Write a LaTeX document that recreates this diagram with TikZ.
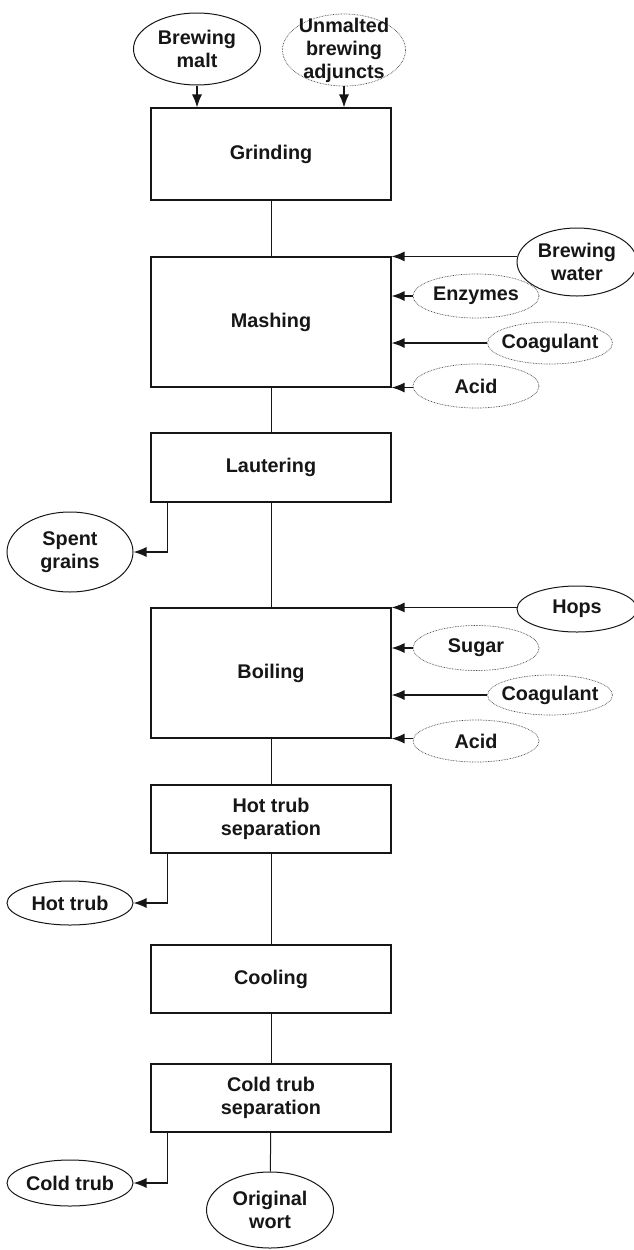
\documentclass[tikz,border=0pt]{standalone}
\usepackage{fontspec}
\setmainfont{Liberation Sans}
\usetikzlibrary{shapes.geometric,arrows.meta}
\definecolor{ink}{HTML}{161616}
\begin{document}
\begin{tikzpicture}[x=1pt,y=-1pt,
  font=\fontsize{19.8}{23}\selectfont\bfseries,
  proc/.style={draw=ink,line width=1.1pt,minimum width=240pt,inner sep=0pt,text=ink,align=center},
  solidell/.style={draw=ink,line width=1pt,ellipse,inner sep=0pt},
  dotell/.style={draw=ink!80,line width=0.7pt,dash pattern=on 0.7pt off 0.9pt,ellipse,inner sep=0pt},
  lbl/.style={text=ink,align=center,inner sep=0pt},
  link/.style={draw=ink,line width=1pt},
  arr/.style={draw=ink,line width=1.3pt,-{Latex[length=13pt,width=10pt]}}]
\useasboundingbox (0,0) rectangle (634,1250);
% process boxes
\node[proc,minimum height=92pt]  (grind) at (271,154) {Grinding};
\node[proc,minimum height=130pt] (mash)  at (271,322) {Mashing};
\node[proc,minimum height=69pt]  (laut)  at (271,467.5) {Lautering};
\node[proc,minimum height=130pt] (boil)  at (271,673) {Boiling};
\node[proc,minimum height=68pt]  (hts)   at (271,819) {Hot trub\\separation};
\node[proc,minimum height=68pt]  (cool)  at (271,979) {Cooling};
\node[proc,minimum height=68pt]  (cts)   at (271,1098) {Cold trub\\separation};
% inputs / outputs
\node[solidell,minimum width=127pt,minimum height=72pt,label={[lbl]center:Brewing\\malt}] (malt) at (197,49) {};
\node[dotell,minimum width=123pt,minimum height=72pt,label={[lbl]center:Unmalted\\brewing\\adjuncts}] (unm) at (344,50) {};
\node[solidell,minimum width=120pt,minimum height=68pt,label={[lbl]center:Brewing\\water}] (water) at (577,262) {};
\node[dotell,minimum width=126pt,minimum height=44pt,label={[lbl]center:Enzymes}] (enz) at (476,296) {};
\node[dotell,minimum width=125pt,minimum height=42pt,label={[lbl]center:Coagulant}] (coag1) at (550,343) {};
\node[dotell,minimum width=126pt,minimum height=44pt,label={[lbl]center:Acid}] (acid1) at (476,386) {};
\node[solidell,minimum width=126pt,minimum height=80pt,label={[lbl]center:Spent\\grains}] (spent) at (70,552) {};
\node[solidell,minimum width=120pt,minimum height=46pt,label={[lbl]center:Hops}] (hops) at (577,609) {};
\node[dotell,minimum width=126pt,minimum height=45pt,label={[lbl]center:Sugar}] (sugar) at (476,648) {};
\node[dotell,minimum width=125pt,minimum height=40pt,label={[lbl]center:Coagulant}] (coag2) at (550,695) {};
\node[dotell,minimum width=126pt,minimum height=42pt,label={[lbl]center:Acid}] (acid2) at (476,741) {};
\node[solidell,minimum width=126pt,minimum height=44pt,label={[lbl]center:Hot trub}] (hot) at (70,903) {};
\node[solidell,minimum width=126pt,minimum height=46pt,label={[lbl]center:Cold trub}] (cold) at (70,1183) {};
\node[solidell,minimum width=127pt,minimum height=76pt,label={[lbl]center:Original\\wort}] (wort) at (270,1210) {};
% main flow
\draw[link] (grind) -- (mash);
\draw[link] (mash) -- (laut);
\draw[link] (laut) -- (boil);
\draw[link] (boil) -- (hts);
\draw[link] (hts) -- (cool);
\draw[link] (cool) -- (cts);
\draw[link] (cts) -- (wort);
% inputs
\draw[arr] (malt.south) -- (malt.south |- grind.north);
\draw[arr] (unm.south) -- (unm.south |- grind.north);
\draw[arr] (water.west |- mash.north east) -- (mash.north east);
\draw[arr] (enz.west) -- (enz.west -| mash.east);
\draw[arr] (coag1.west) -- (coag1.west -| mash.east);
\draw[arr] (acid1.west |- mash.south east) -- (mash.south east);
\draw[arr] (hops.west |- boil.north east) -- (boil.north east);
\draw[arr] (sugar.west) -- (sugar.west -| boil.east);
\draw[arr] (coag2.west) -- (coag2.west -| boil.east);
\draw[arr] (acid2.west |- boil.south east) -- (boil.south east);
% outputs
\draw[arr] ([xshift=17pt]laut.south west) |- (spent.east);
\draw[arr] ([xshift=17pt]hts.south west) |- (hot.east);
\draw[arr] ([xshift=17pt]cts.south west) |- (cold.east);
\end{tikzpicture}
\end{document}
